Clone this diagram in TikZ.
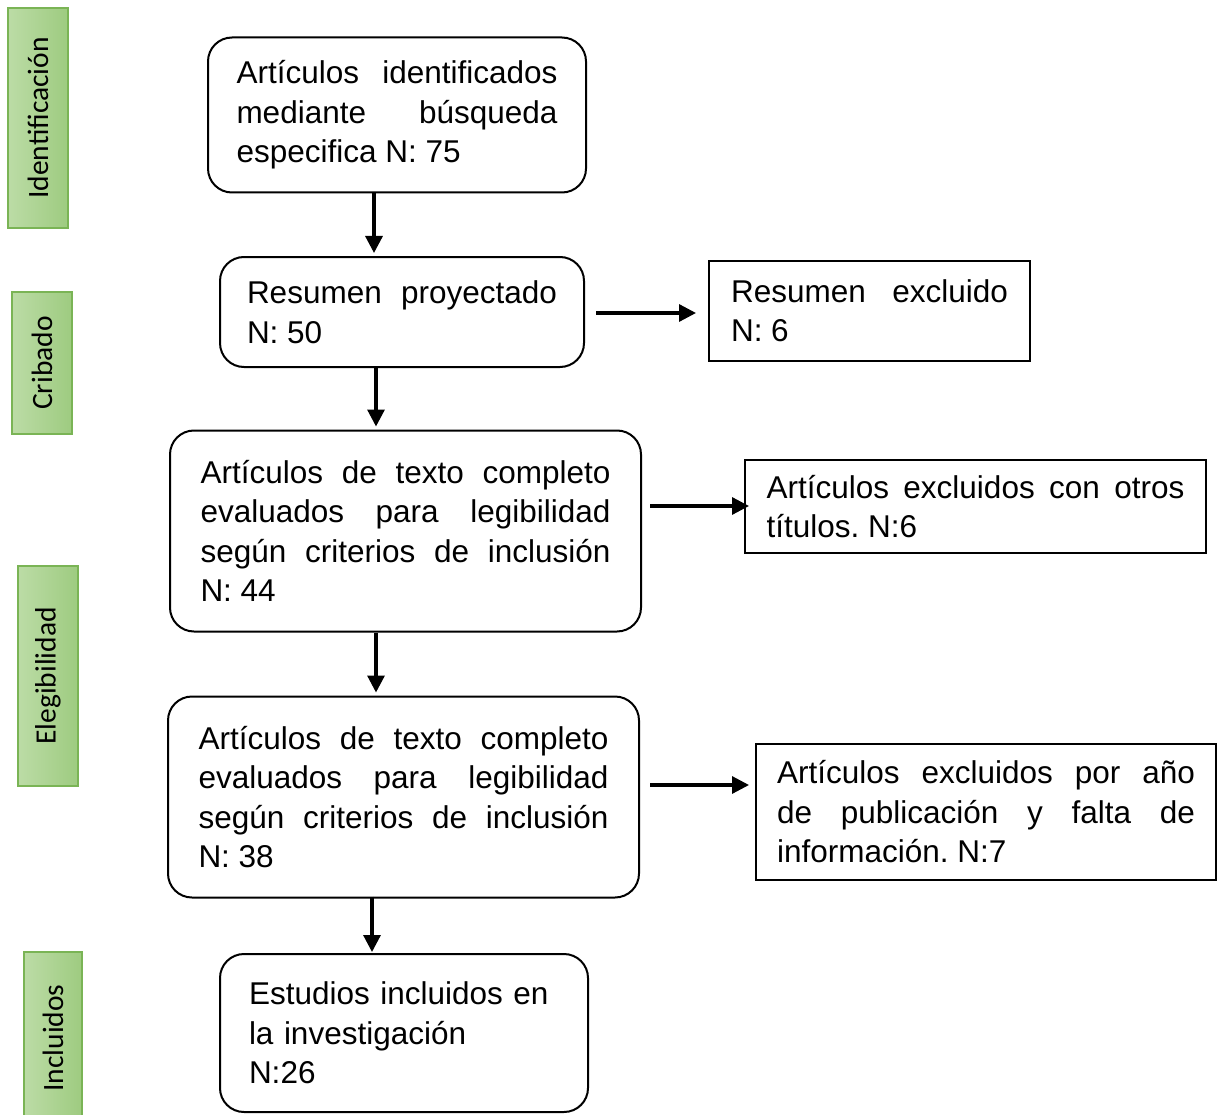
\documentclass[tikz,border=0pt]{standalone}
\usepackage{fontspec}
\setmainfont{Liberation Sans}
\newfontfamily\labfont{Carlito}
\usetikzlibrary{arrows.meta,calc}
\definecolor{glight}{HTML}{BCDCA6}
\definecolor{gdark}{HTML}{9ECB80}
\definecolor{gedge}{HTML}{7AB455}
\frenchspacing
\begin{document}
\begin{tikzpicture}[x=1pt,y=-1pt,
  txt/.style={font=\fontsize{31.5}{39.5}\selectfont, inner xsep=0pt, inner ysep=0pt, anchor=center},
  rbox/.style={txt, draw, line width=2pt, rounded corners=24pt, align=justify},
  sbox/.style={txt, draw, line width=2pt, align=justify},
  phase/.style={draw=gedge, line width=1.5pt, left color=glight, right color=gdark, inner sep=0pt,
    font=\labfont\fontsize{29.5}{31}\selectfont, minimum width=60pt, anchor=center},
  arr/.style={line width=3.2pt, -{Triangle[length=17pt,width=17pt]}}]
\useasboundingbox (0,0) rectangle (1225,1115);
\hyphenpenalty=10000
% phase labels
\node[phase, minimum height=220pt] (p1) at (38,118) {\rotatebox{90}{Identificación}};
\node[phase, minimum height=142pt] (p2) at (42,363) {\rotatebox{90}{Cribado}};
\node[phase, minimum height=220pt] (p3) at (48,676) {\rotatebox{90}{Elegibilidad}};
\node[phase, minimum width=58pt, minimum height=172pt] (p4) at (53,1038) {\rotatebox{90}{Incluidos}};
% boxes
\node[rbox, minimum width=378pt, minimum height=155pt, text width=321pt] (b1) at (397,115)
  {\parfillskip=0pt plus 1fil\relax Artículos identificados\linebreak mediante búsqueda\linebreak especifica N: 75};
\node[rbox, minimum width=364pt, minimum height=110pt, text width=310pt] (b2) at (402,312)
  {Resumen proyectado\linebreak N: 50};
\node[sbox, minimum width=321pt, minimum height=100pt, text width=277pt] (b3) at (869.5,310.5)
  {Resumen excluido\linebreak N: 6};
\node[rbox, minimum width=471pt, minimum height=201pt, text width=410pt] (b4) at (405.5,531)
  {Artículos de texto completo\linebreak evaluados para legibilidad\linebreak según criterios de inclusión\linebreak N: 44};
\node[sbox, minimum width=461pt, minimum height=93pt, text width=418pt] (b5) at (975.5,506.5)
  {Artículos excluidos con otros\linebreak títulos. N:6};
\node[rbox, minimum width=471pt, minimum height=201pt, text width=410pt] (b6) at (403.5,797)
  {Artículos de texto completo\linebreak evaluados para legibilidad\linebreak según criterios de inclusión\linebreak N: 38};
\node[sbox, minimum width=460pt, minimum height=136pt, text width=418pt] (b7) at (986,812)
  {Artículos excluidos por año\linebreak de publicación y falta de\linebreak información. N:7};
\node[rbox, align=left, minimum width=368pt, minimum height=158pt, text width=310pt] (b8) at (404,1033)
  {Estudios incluidos en\\la investigación\\N:26};
% connector end points
\coordinate (v1s) at ($(b1.south)+(-23,0)$);
\coordinate (v1e) at (v1s |- b2.north);
\coordinate (v2s) at ($(b2.south)+(-26,0)$);
\coordinate (v2e) at (v2s |- b4.north);
\coordinate (v3s) at ($(b4.south)+(-29.5,0)$);
\coordinate (v3e) at (v3s |- b6.north);
\coordinate (v4s) at ($(b6.south)+(-31.5,-2)$);
\coordinate (v4e) at (v4s |- b8.north);
\coordinate (h1s) at ($(b2.east)+(11,1)$);
\coordinate (h1e) at (h1s -| b3.west);
\coordinate (h2s) at ($(b4.east)+(8,-25)$);
\coordinate (h2e) at (h2s -| b5.west);
\coordinate (h3s) at ($(b6.east)+(10,-12)$);
\coordinate (h3e) at (h3s -| b7.west);
% arrows
\draw[arr, shorten >=3pt] (v1s) -- (v1e);
\draw[arr, shorten >=3pt] (v2s) -- (v2e);
\draw[arr, shorten >=3pt] (v3s) -- (v3e);
\draw[arr, shorten >=1pt] (v4s) -- (v4e);
\draw[arr, shorten >=12pt] (h1s) -- (h1e);
\draw[arr, shorten >=-5pt] (h2s) -- (h2e);
\draw[arr, shorten >=6pt] (h3s) -- (h3e);
\end{tikzpicture}
\end{document}
